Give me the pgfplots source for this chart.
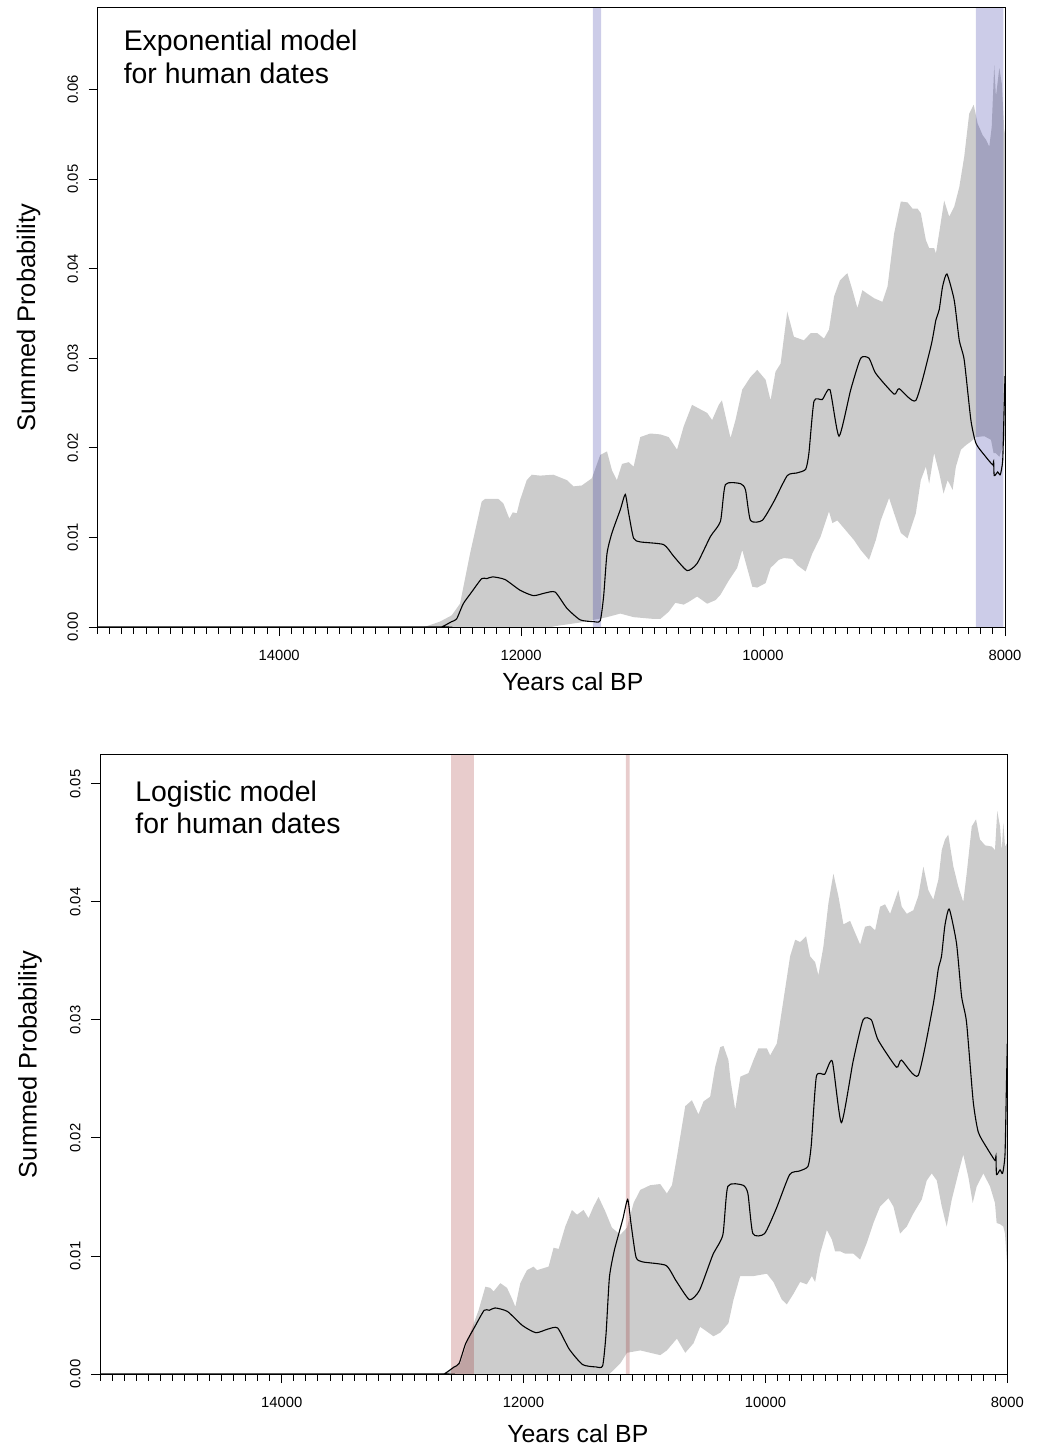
\documentclass[border=0pt]{standalone}
\usepackage{pgfplots}
\pgfplotsset{compat=1.18}
\usepgfplotslibrary{fillbetween}
\usepackage{pgfplotstable}
\usepackage{fontspec}
\setmainfont{Liberation Sans}

\definecolor{envgray}{RGB}{204,204,204}
\definecolor{bandblue}{RGB}{0,0,139}
\definecolor{bandred}{RGB}{139,0,0}

% summed probability of the human dates (same curve in both panels)
\pgfplotstableread{
year spd
15500 0
12700 0
12657 0
12574 0.0006
12533 0.0009
12478 0.0026
12409 0.0039
12326 0.0054
12284 0.0054
12235 0.0056
12133 0.0053
12008 0.0041
11898 0.0035
11801 0.0038
11718 0.0039
11622 0.0021
11512 0.0008
11401 0.0006
11346 0.0007
11318 0.0034
11290 0.0082
11249 0.0105
11180 0.0131
11139 0.0148
11111 0.0127
11070 0.0099
11015 0.0095
10822 0.0092
10739 0.0079
10628 0.0063
10545 0.0071
10435 0.0101
10352 0.0118
10311 0.0159
10186 0.0160
10145 0.0153
10104 0.0119
10007 0.0119
9911 0.0140
9800 0.0169
9720 0.0172
9648 0.0176
9621 0.0194
9579 0.0252
9510 0.0254
9447 0.0265
9372 0.0213
9275 0.0265
9193 0.0300
9124 0.0300
9068 0.0283
8917 0.0260
8875 0.0266
8737 0.0253
8613 0.0313
8571 0.0343
8544 0.0354
8516 0.0380
8480 0.0394
8420 0.0365
8378 0.0320
8337 0.0298
8282 0.0231
8240 0.0205
8171 0.0192
8102 0.0181
8094 0.0185
8089 0.0169
8060 0.0173
8039 0.0170
8019 0.0186
8008 0.0240
8000 0.0280
}\spd

% exponential model envelope
\pgfplotstableread{
year hi
15500 0
12800 0
12671 0.0006
12574 0.0013
12505 0.0026
12422 0.0082
12326 0.0140
12298 0.0143
12188 0.0143
12147 0.0138
12097 0.0121
12069 0.0128
12036 0.0127
12008 0.0142
11953 0.0164
11912 0.0170
11843 0.0169
11733 0.0170
11622 0.0164
11567 0.0157
11498 0.0158
11415 0.0166
11346 0.0192
11290 0.0196
11249 0.0175
11208 0.0164
11166 0.0182
11111 0.0184
11070 0.0179
11015 0.0212
10932 0.0216
10849 0.0215
10780 0.0212
10711 0.0198
10656 0.0224
10587 0.0248
10532 0.0244
10462 0.0239
10421 0.0231
10366 0.0248
10340 0.0253
10269 0.0211
10228 0.0231
10172 0.0265
10104 0.0279
10048 0.0287
9979 0.0276
9938 0.0253
9897 0.0285
9855 0.0294
9800 0.0352
9745 0.0324
9662 0.0320
9607 0.0328
9551 0.0328
9496 0.0322
9455 0.0332
9413 0.0369
9364 0.0387
9303 0.0395
9261 0.0376
9220 0.0356
9179 0.0376
9137 0.0372
9082 0.0367
9013 0.0363
8971 0.0380
8917 0.0439
8861 0.0475
8806 0.0474
8764 0.0467
8723 0.0467
8696 0.0462
8654 0.0432
8627 0.0423
8586 0.0423
8571 0.0417
8536 0.0447
8503 0.0476
8461 0.0458
8420 0.0469
8378 0.0491
8337 0.0525
8296 0.0573
8259 0.0583
8226 0.0562
8185 0.0549
8157 0.0544
8130 0.0536
8110 0.0558
8089 0.0627
8075 0.0592
8047 0.0624
8027 0.0607
8006 0.0555
8000 0.0550
}\expup

\pgfplotstableread{
year lo
15500 0
11750 0
11718 0.0001
11512 0.0005
11401 0.0008
11290 0.0011
11180 0.0015
11070 0.0011
10904 0.0009
10849 0.0009
10780 0.0017
10725 0.0027
10656 0.0025
10615 0.0028
10545 0.0034
10462 0.0026
10393 0.0030
10352 0.0036
10283 0.0052
10214 0.0066
10172 0.0086
10089 0.0045
10048 0.0044
9979 0.0049
9938 0.0066
9869 0.0075
9828 0.0077
9759 0.0076
9717 0.0069
9648 0.0062
9593 0.0082
9524 0.0101
9455 0.0129
9427 0.0116
9386 0.0119
9317 0.0108
9248 0.0097
9193 0.0086
9124 0.0075
9068 0.0097
9027 0.0119
8958 0.0144
8917 0.0127
8861 0.0105
8806 0.0099
8737 0.0127
8696 0.0164
8654 0.0179
8627 0.0160
8586 0.0194
8544 0.0172
8508 0.0149
8474 0.0164
8433 0.0153
8406 0.0179
8364 0.0198
8323 0.0203
8282 0.0207
8240 0.0212
8171 0.0213
8116 0.0209
8094 0.0194
8075 0.0194
8047 0.0190
8019 0.0201
8000 0.0210
}\explo

% logistic model envelope
\pgfplotstableread{
year hi
15500 0
12700 0
12647 0.0001
12523 0.0009
12440 0.0035
12372 0.0054
12316 0.0074
12275 0.0073
12248 0.0070
12192 0.0077
12137 0.0073
12096 0.0064
12068 0.0057
12027 0.0077
11972 0.0088
11917 0.0091
11889 0.0088
11793 0.0091
11752 0.0107
11710 0.0106
11655 0.0125
11600 0.0139
11558 0.0135
11504 0.0139
11463 0.0132
11421 0.0142
11380 0.0150
11325 0.0138
11269 0.0124
11200 0.0118
11145 0.0124
11090 0.0145
11035 0.0156
10953 0.0160
10870 0.0161
10815 0.0153
10773 0.0160
10732 0.0184
10663 0.0227
10608 0.0232
10554 0.0220
10512 0.0231
10457 0.0235
10416 0.0260
10374 0.0277
10347 0.0278
10306 0.0266
10290 0.0250
10250 0.0224
10207 0.0252
10140 0.0255
10099 0.0266
10058 0.0276
9988 0.0276
9961 0.0270
9906 0.0280
9851 0.0317
9796 0.0354
9754 0.0368
9713 0.0366
9664 0.0371
9631 0.0354
9589 0.0349
9562 0.0338
9521 0.0362
9479 0.0399
9438 0.0424
9397 0.0405
9355 0.0381
9300 0.0384
9259 0.0374
9217 0.0364
9176 0.0379
9135 0.0380
9093 0.0376
9052 0.0396
9011 0.0398
8969 0.0390
8928 0.0402
8901 0.0410
8873 0.0396
8831 0.0390
8777 0.0393
8736 0.0405
8694 0.0430
8653 0.0410
8612 0.0402
8570 0.0419
8542 0.0444
8515 0.0453
8488 0.0457
8446 0.0430
8405 0.0413
8364 0.0400
8336 0.0424
8294 0.0464
8259 0.0470
8226 0.0453
8184 0.0448
8129 0.0447
8102 0.0444
8083 0.0477
8060 0.0464
8046 0.0443
8033 0.0467
8019 0.0447
8000 0.0450
}\logup

\pgfplotstableread{
year lo
15500 0
11290 0
11200 0.0009
11145 0.0018
11035 0.0020
10953 0.0018
10870 0.0016
10815 0.0020
10732 0.0030
10663 0.0018
10595 0.0026
10540 0.0040
10484 0.0036
10430 0.0032
10374 0.0035
10306 0.0043
10264 0.0063
10209 0.0083
10099 0.0083
9988 0.0085
9934 0.0078
9864 0.0063
9823 0.0059
9768 0.0068
9713 0.0078
9658 0.0076
9616 0.0083
9589 0.0078
9548 0.0102
9492 0.0122
9451 0.0114
9424 0.0104
9383 0.0104
9341 0.0102
9273 0.0102
9217 0.0097
9162 0.0111
9107 0.0128
9052 0.0142
8983 0.0149
8942 0.0142
8887 0.0119
8831 0.0125
8777 0.0136
8707 0.0148
8666 0.0164
8625 0.0170
8583 0.0164
8542 0.0142
8501 0.0125
8459 0.0148
8405 0.0170
8364 0.0186
8322 0.0167
8286 0.0145
8253 0.0159
8198 0.0170
8143 0.0159
8102 0.0145
8088 0.0128
8060 0.0127
8033 0.0125
8019 0.0119
8000 0.0091
}\loglo

\pgfplotsset{
  spdaxis/.style={
    scale only axis,
    axis on top,
    x dir=reverse,
    xmin=8000, xmax=15500,
    ymin=0,
    xtick={8000,10000,12000,14000},
    minor xtick={8000,8100,...,15500},
    tick pos=left,
    tick align=outside,
    major tick length=4.6pt,
    minor tick length=3.3pt,
    every tick/.append style={black, line width=0.5pt},
    axis line style={black, line width=0.5pt},
    scaled x ticks=false,
    scaled y ticks=false,
    /pgf/number format/assume math mode=true,
    xticklabel style={font=\fontsize{7.4}{9}\selectfont,
      /pgf/number format/set thousands separator={},
      anchor=north, inner sep=0pt},
    xticklabel shift=6.9pt,
    yticklabel style={font=\fontsize{7.4}{9}\selectfont,
      /pgf/number format/fixed, /pgf/number format/fixed zerofill,
      /pgf/number format/precision=2,
      rotate=90, anchor=south, inner sep=0pt},
    yticklabel shift=5.1pt,
  }
}

\begin{document}
\begin{tikzpicture}
% frame of the whole figure (1040 x 1450 px at 0.5pt per px)
\path (0,0) rectangle (520pt,-725pt);

\begin{axis}[spdaxis, at={(48.85pt,-313.5pt)}, anchor=south west,
  width=453.65pt, height=309.5pt, ymax=0.0691,
  ytick={0,0.01,0.02,0.03,0.04,0.05,0.06}]
\addplot[name path=up, draw=none] table {\expup};
\addplot[name path=lo, draw=none] table {\explo};
\addplot[envgray] fill between[of=up and lo];
\addplot[fill=bandblue, fill opacity=0.2, draw=none]
  coordinates {(11406,0) (11406,0.0691) (11338,0.0691) (11338,0)} \closedcycle;
\addplot[fill=bandblue, fill opacity=0.2, draw=none]
  coordinates {(8240,0) (8240,0.0691) (8014,0.0691) (8014,0)} \closedcycle;
\addplot[black, line width=0.55pt, smooth, tension=0.35] table {\spd};
\end{axis}

\begin{axis}[spdaxis, at={(50.15pt,-687pt)}, anchor=south west,
  width=453.5pt, height=309.65pt, ymax=0.05248,
  ytick={0,0.01,0.02,0.03,0.04,0.05}]
\addplot[name path=up, draw=none] table {\logup};
\addplot[name path=lo, draw=none] table {\loglo};
\addplot[envgray] fill between[of=up and lo];
\addplot[fill=bandred, fill opacity=0.2, draw=none]
  coordinates {(12600,0) (12600,0.05248) (12410,0.05248) (12410,0)} \closedcycle;
\addplot[fill=bandred, fill opacity=0.2, draw=none]
  coordinates {(11154,0) (11154,0.05248) (11124,0.05248) (11124,0)} \closedcycle;
\addplot[black, line width=0.55pt, smooth, tension=0.35] table {\spd};
\end{axis}

% labels and panel titles
\begin{scope}[every node/.style={inner sep=0pt}]
\node[rotate=90, anchor=base, font=\fontsize{12.7}{15}\selectfont]
  at (17.5pt,-158.75pt) {Summed Probability};
\node[rotate=90, anchor=base, font=\fontsize{12.7}{15}\selectfont]
  at (18.3pt,-532.2pt) {Summed Probability};
\node[anchor=base, font=\fontsize{12.4}{15}\selectfont]
  at (286.4pt,-345.4pt) {Years cal BP};
\node[anchor=base, font=\fontsize{12.4}{15}\selectfont]
  at (288.9pt,-721.4pt) {Years cal BP};
\node[anchor=base west, font=\fontsize{14.2}{17}\selectfont]
  at (61.7pt,-25.5pt) {Exponential model};
\node[anchor=base west, font=\fontsize{14.2}{17}\selectfont]
  at (61.7pt,-42pt) {for human dates};
\node[anchor=base west, font=\fontsize{14.2}{17}\selectfont]
  at (67.5pt,-400.5pt) {Logistic model};
\node[anchor=base west, font=\fontsize{14.2}{17}\selectfont]
  at (67.5pt,-416.7pt) {for human dates};
\end{scope}
\end{tikzpicture}
\end{document}
